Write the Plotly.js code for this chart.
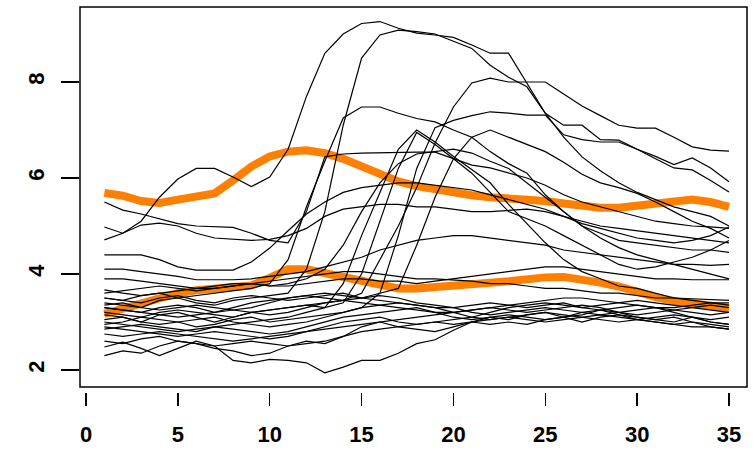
<!DOCTYPE html>
<html>
<head>
<meta charset="utf-8">
<script src="https://cdn.plot.ly/plotly-3.0.1.min.js"></script>
<style>html,body{margin:0;padding:0;background:#fff;}#chart{width:753px;height:451px;}</style>
</head>
<body>
<div id="chart"></div>
<script>
const xs = [1,2,3,4,5,6,7,8,9,10,11,12,13,14,15,16,17,18,19,20,21,22,23,24,25,26,27,28,29,30,31,32,33,34,35];
const xTicks = [0,5,10,15,20,25,30,35];
const yTicks = [2,4,6,8];

// black individual trajectories
const lineH1 = [4.71,4.85,5.1,5.6,5.98,6.2,6.2,6.02,5.82,6.02,6.6,7.7,8.6,9.0,9.22,9.26,9.12,9.02,8.98,8.93,8.77,8.6,8.6,7.98,7.35,6.85,6.44,6.15,5.9,5.7,5.55,5.4,5.3,5.2,5.0];
const lineH2 = [3.35,3.4,3.3,3.45,3.5,3.4,3.35,3.45,3.5,3.55,3.6,4.1,5.3,7.1,8.5,8.98,9.08,9.05,9.0,8.85,8.7,8.35,8.1,7.9,7.35,7.1,7.1,6.8,6.79,6.6,6.45,6.28,6.42,6.21,5.92];
const lineE1 = [3.05,3.1,3.0,3.15,3.2,3.1,3.0,3.1,3.2,3.25,3.3,3.35,3.4,3.45,3.6,4.3,5.0,5.8,6.73,7.48,7.98,8.08,8.0,8.0,8.0,7.75,7.5,7.3,7.1,7.04,7.04,6.85,6.65,6.58,6.56];
const lineD = [3.5,3.45,3.55,3.6,3.5,3.55,3.6,3.65,3.7,3.8,4.3,5.4,6.35,7.25,7.48,7.48,7.35,7.24,7.17,7.0,6.85,6.55,6.3,6.1,5.65,5.3,5.0,4.85,4.7,4.65,4.6,4.55,4.5,4.5,4.45];
const lineF = [2.95,3.0,3.1,3.05,3.0,2.9,2.95,3.05,3.1,3.0,3.05,3.1,3.15,3.2,3.3,3.6,4.8,6.2,7.05,7.2,7.3,7.38,7.35,7.31,7.31,6.9,6.8,6.75,6.75,6.6,6.4,6.21,6.17,5.95,5.71];
const lineG = [3.3,3.25,3.2,3.3,3.35,3.3,3.2,3.3,3.4,3.45,3.5,3.55,3.6,3.55,3.5,3.6,3.7,4.6,5.6,6.4,6.85,7.0,6.85,6.7,6.55,6.33,6.08,5.9,5.8,5.68,5.5,5.3,5.1,4.95,4.75];
const lineI = [3.6,3.65,3.7,3.75,3.7,3.65,3.7,3.75,3.8,3.75,3.8,3.9,4.1,4.6,5.3,5.9,6.3,6.5,6.55,6.6,6.52,6.35,6.2,5.9,5.6,5.3,5.0,4.75,4.55,4.4,4.3,4.2,4.1,4.0,3.9];
const lineH4 = [2.85,2.9,2.95,2.9,2.85,2.8,2.9,2.95,3.0,3.05,3.1,3.2,3.3,3.8,4.8,5.7,6.6,7.0,6.75,6.45,6.17,5.9,5.45,5.05,4.65,4.3,4.05,3.9,3.75,3.7,3.6,3.5,3.45,3.4,3.35];
const lineH5 = [3.2,3.15,3.1,3.2,3.25,3.2,3.15,3.1,3.2,3.25,3.3,3.35,3.3,3.4,4.0,5.1,6.2,6.95,6.7,6.4,6.1,5.7,5.3,5.15,5.0,4.8,4.6,4.4,4.2,4.1,4.15,4.25,4.35,4.5,4.7];
const lineS1 = [5.5,5.33,5.25,5.15,5.05,5.0,4.98,4.97,4.85,4.7,4.65,5.3,6.44,6.5,6.52,6.53,6.54,6.54,6.54,6.4,6.27,6.21,6.1,6.0,5.85,5.65,5.5,5.4,5.3,5.2,5.1,5.05,5.0,4.98,4.95];
const lineS2 = [4.98,4.85,5.02,5.06,5.0,4.85,4.75,4.72,4.7,4.72,4.8,4.95,5.2,5.35,5.4,5.45,5.45,5.4,5.4,5.35,5.3,5.3,5.32,5.35,5.3,5.2,5.1,5.0,4.95,4.9,4.85,4.8,4.75,4.7,4.65];
const lineS3 = [4.4,4.4,4.4,4.3,4.15,4.08,4.08,4.08,4.25,4.54,4.9,5.25,5.5,5.7,5.8,5.85,5.9,5.9,5.85,5.8,5.75,5.65,5.55,5.45,5.35,5.2,5.05,4.95,4.85,4.75,4.7,4.65,4.7,4.8,4.98];
const lineS4 = [4.1,4.1,4.05,4.0,3.95,3.88,3.88,3.88,3.9,3.95,4.0,4.05,4.15,4.25,4.35,4.5,4.6,4.7,4.75,4.8,4.8,4.75,4.7,4.65,4.6,4.5,4.45,4.4,4.35,4.3,4.25,4.2,4.2,4.18,4.2];
const lineS5 = [3.9,3.9,3.85,3.8,3.75,3.7,3.7,3.75,3.8,3.85,3.9,3.95,4.0,4.05,4.05,4.0,3.95,3.9,3.9,3.88,3.85,3.8,3.8,3.75,3.7,3.7,3.65,3.6,3.6,3.55,3.5,3.5,3.48,3.46,3.45];
const lineS6 = [3.67,3.6,3.55,3.6,3.65,3.7,3.75,3.8,3.8,3.75,3.75,3.8,3.85,3.9,3.9,3.85,3.85,3.8,3.85,3.9,3.95,4.0,4.05,4.1,4.15,4.15,4.1,4.05,4.0,3.95,3.9,3.9,3.88,3.88,3.88];
const lineC1 = [3.5,3.45,3.4,3.5,3.55,3.45,3.4,3.5,3.55,3.5,3.45,3.5,3.55,3.6,3.5,3.45,3.4,3.35,3.3,3.3,3.35,3.4,3.35,3.3,3.35,3.4,3.3,3.25,3.3,3.35,3.3,3.25,3.3,3.35,3.3];
const lineC2 = [3.4,3.35,3.3,3.25,3.3,3.35,3.3,3.25,3.3,3.4,3.5,3.55,3.5,3.45,3.4,3.35,3.3,3.25,3.2,3.2,3.25,3.3,3.25,3.2,3.25,3.3,3.35,3.3,3.2,3.15,3.2,3.25,3.2,3.15,3.2];
const lineC3 = [3.3,3.25,3.2,3.15,3.1,3.15,3.2,3.25,3.2,3.15,3.2,3.3,3.4,3.45,3.5,3.55,3.5,3.4,3.35,3.3,3.2,3.15,3.2,3.25,3.3,3.25,3.2,3.15,3.2,3.25,3.3,3.2,3.1,3.05,3.1];
const lineC4 = [3.15,3.1,3.0,2.95,3.0,3.05,3.1,3.0,2.95,2.9,2.95,3.0,3.1,3.2,3.3,3.35,3.4,3.35,3.3,3.2,3.1,3.05,3.1,3.15,3.2,3.15,3.1,3.05,3.0,3.05,3.1,3.15,3.1,3.0,2.95];
const lineC5 = [3.0,2.95,2.9,2.85,2.8,2.85,2.9,2.85,2.8,2.75,2.8,2.9,3.0,3.1,3.15,3.2,3.25,3.3,3.2,3.1,3.05,3.1,3.15,3.1,3.05,3.1,3.2,3.25,3.15,3.05,3.0,2.95,2.9,2.9,2.85];
const lineC6 = [2.9,2.85,2.8,2.75,2.7,2.75,2.8,2.75,2.7,2.65,2.7,2.8,2.9,3.0,3.05,3.1,3.0,2.95,3.0,3.05,3.1,3.2,3.3,3.35,3.4,3.35,3.3,3.35,3.4,3.45,3.4,3.35,3.3,3.25,3.2];
const lineC7 = [2.75,2.7,2.75,2.8,2.75,2.7,2.65,2.6,2.65,2.7,2.75,2.8,2.85,2.9,2.95,3.0,3.05,3.1,3.15,3.2,3.25,3.3,3.35,3.4,3.45,3.5,3.5,3.45,3.4,3.35,3.3,3.3,3.35,3.4,3.4];
const lineC8 = [2.6,2.55,2.65,2.7,2.6,2.55,2.5,2.55,2.6,2.55,2.5,2.55,2.6,2.7,2.8,2.85,2.9,2.95,3.0,2.95,3.0,3.05,3.1,3.05,3.0,3.05,3.1,3.15,3.1,3.05,3.0,2.95,3.0,2.9,2.85];
const lineLow1 = [2.48,2.58,2.45,2.3,2.45,2.6,2.5,2.2,2.15,2.22,2.2,2.15,1.94,2.06,2.2,2.2,2.35,2.55,2.63,2.83,3.0,2.95,3.0,2.95,3.05,3.1,3.0,3.1,3.15,3.1,3.05,3.1,3.0,2.95,2.9];
const lineLow2 = [2.3,2.4,2.35,2.5,2.6,2.55,2.45,2.4,2.3,2.35,2.5,2.6,2.55,2.7,2.9,3.0,2.9,2.85,2.8,2.9,3.0,3.1,3.05,3.15,3.2,3.1,3.15,3.25,3.2,3.1,3.05,3.0,3.1,3.0,2.95];

// orange cluster means
const meanHigh = [5.69,5.63,5.52,5.48,5.55,5.6,5.68,5.95,6.24,6.45,6.55,6.58,6.52,6.4,6.25,6.08,5.93,5.83,5.76,5.7,5.64,5.6,5.58,5.55,5.52,5.47,5.42,5.38,5.38,5.42,5.46,5.5,5.55,5.5,5.4];
const meanLow = [3.17,3.28,3.4,3.5,3.6,3.66,3.7,3.72,3.76,3.92,4.1,4.1,4.02,3.92,3.83,3.76,3.7,3.7,3.72,3.76,3.78,3.82,3.85,3.9,3.93,3.94,3.9,3.82,3.74,3.62,3.52,3.44,3.38,3.33,3.29];

const blackLines = [lineH1,lineH2,lineE1,lineD,lineF,lineG,lineI,lineH4,lineH5,lineS1,lineS2,lineS3,lineS4,lineS5,lineS6,lineC1,lineC2,lineC3,lineC4,lineC5,lineC6,lineC7,lineC8,lineLow1,lineLow2];
const orangeLines = [meanHigh, meanLow];

const traces = [];
orangeLines.forEach(v => traces.push({x: xs, y: v, type: 'scatter', mode: 'lines', line: {color: '#FF7F00', width: 8}, hoverinfo: 'skip'}));
blackLines.forEach(v => traces.push({x: xs, y: v, type: 'scatter', mode: 'lines', line: {color: '#000000', width: 1.2}, hoverinfo: 'skip'}));

const tickFont = {family: 'Liberation Sans, Arial, sans-serif', size: 22, color: '#000', weight: 'bold'};
const layout = {
  width: 753, height: 451,
  margin: {l: 80, r: 6, t: 7, b: 59, pad: 0},
  paper_bgcolor: '#fff', plot_bgcolor: '#fff',
  showlegend: false,
  xaxis: {
    range: [-0.327, 35.98], tickvals: xTicks, ticktext: xTicks.map(String),
    ticks: 'outside', ticklen: 13, tickwidth: 1.5, tickcolor: '#000',
    showline: false, showgrid: false, zeroline: false,
    anchor: 'free', position: 0, tickfont: tickFont, ticklabelstandoff: 10
  },
  yaxis: {
    domain: [0.013, 1], range: [1.646, 9.563], tickvals: yTicks, ticktext: yTicks.map(String),
    ticks: 'outside', ticklen: 18, tickwidth: 1.5, tickcolor: '#000', tickangle: -90,
    showline: false, showgrid: false, zeroline: false, tickfont: tickFont, ticklabelstandoff: 8
  },
  shapes: [{type: 'rect', xref: 'paper', yref: 'paper', x0: 0, x1: 1, y0: 0.013, y1: 1, line: {color: '#000', width: 1.5}, fillcolor: 'rgba(0,0,0,0)'}]
};
Plotly.newPlot('chart', traces, layout, {displayModeBar: false, staticPlot: true});
</script>
</body>
</html>
